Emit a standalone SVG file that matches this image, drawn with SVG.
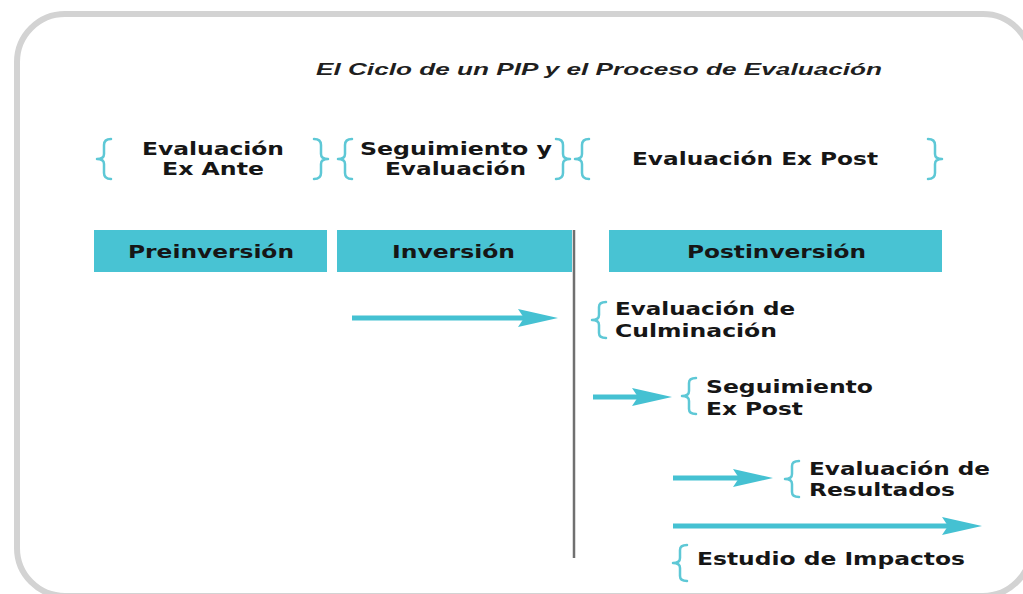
<svg xmlns="http://www.w3.org/2000/svg" width="1023" height="594" viewBox="0 0 1023 594">
<defs>
<style>
.frame{fill:#ffffff;stroke:#d3d3d3;stroke-width:6}
.title{font-family:"Liberation Sans",Arial,sans-serif;font-style:italic;font-weight:bold;font-size:16.5px;fill:#1f1f1f}
.lbl{font-family:"DejaVu Sans",Verdana,sans-serif;font-weight:bold;font-size:17px;fill:#161616}
.box{fill:#48c3d3}
.brace{fill:none;stroke:#5ec8d6;stroke-width:2.5;stroke-linecap:round;stroke-linejoin:round}
.arrow{fill:none;stroke:#45c1d2;stroke-width:5;marker-end:url(#head)}
.divider{stroke:#707070;stroke-width:2.5}
</style>
<marker id="head" viewBox="0 0 40 20" refX="6" refY="10" markerWidth="40" markerHeight="20" markerUnits="userSpaceOnUse" orient="auto">
<path d="M0,1 L40,10 L0,19 L6,10 z" fill="#45c1d2"/>
</marker>
</defs>
<rect class="frame" x="17" y="14" width="1014" height="582" rx="48" ry="48"/>
<text class="title" x="316" y="75" textLength="566" lengthAdjust="spacingAndGlyphs">El Ciclo de un PIP y el Proceso de Evaluación</text>

<g id="phase-exante">
<path class="brace" d="M111,139 Q104,139 104,145 L104,154 Q104,159 97,159 Q104,159 104,164 L104,173 Q104,179 111,179"/>
<text class="lbl" x="142" y="155" textLength="142" lengthAdjust="spacingAndGlyphs">Evaluación</text>
<text class="lbl" x="162" y="175" textLength="102" lengthAdjust="spacingAndGlyphs">Ex Ante</text>
<path class="brace" d="M314,139 Q321,139 321,145 L321,154 Q321,159 328,159 Q321,159 321,164 L321,173 Q321,179 314,179"/>
</g>
<g id="phase-seguimiento">
<path class="brace" d="M352,139 Q345,139 345,145 L345,154 Q345,159 338,159 Q345,159 345,164 L345,173 Q345,179 352,179"/>
<text class="lbl" x="360" y="155" textLength="192" lengthAdjust="spacingAndGlyphs">Seguimiento y</text>
<text class="lbl" x="385" y="175" textLength="141" lengthAdjust="spacingAndGlyphs">Evaluación</text>
<path class="brace" d="M556,139 Q563,139 563,145 L563,154 Q563,159 570,159 Q563,159 563,164 L563,173 Q563,179 556,179"/>
</g>
<g id="phase-expost">
<path class="brace" d="M589,139 Q582,139 582,145 L582,154 Q582,159 575,159 Q582,159 582,164 L582,173 Q582,179 589,179"/>
<text class="lbl" x="632" y="165" textLength="246" lengthAdjust="spacingAndGlyphs">Evaluación Ex Post</text>
<path class="brace" d="M928,139 Q935,139 935,145 L935,154 Q935,159 942,159 Q935,159 935,164 L935,173 Q935,179 928,179"/>
</g>

<g id="box-preinversion">
<rect class="box" x="94" y="230" width="233" height="42"/>
<text class="lbl" x="128" y="258" textLength="166" lengthAdjust="spacingAndGlyphs">Preinversión</text>
</g>
<g id="box-inversion">
<rect class="box" x="337" y="230" width="235" height="42"/>
<text class="lbl" x="392" y="258" textLength="123" lengthAdjust="spacingAndGlyphs">Inversión</text>
</g>
<g id="box-postinversion">
<rect class="box" x="609" y="230" width="333" height="42"/>
<text class="lbl" x="687" y="258" textLength="179" lengthAdjust="spacingAndGlyphs">Postinversión</text>
</g>

<g id="node-culminacion">
<path class="brace" d="M606,302 Q599,302 599,307 L599,315 Q599,320 592,320 Q599,320 599,325 L599,333 Q599,338 606,338"/>
<text class="lbl" x="615" y="315" textLength="180" lengthAdjust="spacingAndGlyphs">Evaluación de</text>
<text class="lbl" x="615" y="337" textLength="162" lengthAdjust="spacingAndGlyphs">Culminación</text>
</g>
<g id="node-seguimiento-expost">
<path class="brace" d="M696,378 Q689,378 689,383 L689,391 Q689,396 682,396 Q689,396 689,401 L689,409 Q689,414 696,414"/>
<text class="lbl" x="706" y="393" textLength="167" lengthAdjust="spacingAndGlyphs">Seguimiento</text>
<text class="lbl" x="706" y="415" textLength="97" lengthAdjust="spacingAndGlyphs">Ex Post</text>
</g>
<g id="node-resultados">
<path class="brace" d="M799,461 Q792,461 792,466 L792,474 Q792,479 785,479 Q792,479 792,484 L792,492 Q792,497 799,497"/>
<text class="lbl" x="809" y="475" textLength="181" lengthAdjust="spacingAndGlyphs">Evaluación de</text>
<text class="lbl" x="809" y="496" textLength="146" lengthAdjust="spacingAndGlyphs">Resultados</text>
</g>
<g id="node-impactos">
<path class="brace" d="M687,545 Q680,545 680,550 L680,558 Q680,563 673,563 Q680,563 680,568 L680,576 Q680,581 687,581"/>
<text class="lbl" x="697" y="565" textLength="268" lengthAdjust="spacingAndGlyphs">Estudio de Impactos</text>
</g>

<g id="connectors">
<line class="divider" x1="574" y1="230" x2="574" y2="558"/>
<path class="arrow" d="M352,318 L524,318"/>
<path class="arrow" d="M593,397 L638,397"/>
<path class="arrow" d="M673,478 L739,478"/>
<path class="arrow" d="M673,526 L948,526"/>
</g>
</svg>
